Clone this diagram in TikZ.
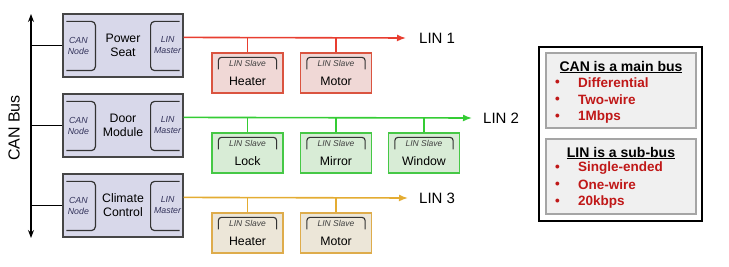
\documentclass[tikz,border=0pt]{standalone}
\usepackage{fontspec}
\setmainfont{Liberation Sans}
\usetikzlibrary{arrows.meta,calc,positioning}

\definecolor{ecufill}{RGB}{216,216,234}
\definecolor{ecuedge}{RGB}{70,70,70}
\definecolor{tagtext}{RGB}{50,50,90}
\definecolor{redline}{RGB}{232,62,48}
\definecolor{redfill}{RGB}{240,216,214}
\definecolor{rededge}{RGB}{218,84,64}
\definecolor{greenline}{RGB}{52,204,52}
\definecolor{greenfill}{RGB}{216,236,214}
\definecolor{greenedge}{RGB}{70,200,70}
\definecolor{orangeline}{RGB}{228,172,50}
\definecolor{orangefill}{RGB}{236,230,216}
\definecolor{orangeedge}{RGB}{222,172,76}
\definecolor{notered}{RGB}{192,24,24}
\definecolor{notefill}{RGB}{240,240,240}
\definecolor{noteedge}{RGB}{165,165,165}

\tikzset{
  ecu/.style={draw=ecuedge, fill=ecufill, line width=1.2pt,
    minimum width=120pt, minimum height=63pt, inner sep=0pt, align=center,
    font=\fontsize{12.3}{14}\selectfont},
  tag/.style={align=center, text=tagtext, inner sep=0pt,
    font=\fontsize{8.8}{11}\selectfont\itshape},
  bracket/.style={line width=1.2pt, draw=black!80, rounded corners=4pt},
  slave/.style={draw=#1edge, fill=#1fill, line width=1.2pt,
    minimum width=71pt, minimum height=40pt, inner sep=0pt},
  lin/.style={draw=#1line, line width=1.6pt},
  linlabel/.style={font=\fontsize{15}{18}\selectfont, inner sep=0pt},
  notebox/.style={draw=noteedge, fill=notefill, line width=1.5pt,
    minimum width=150pt, minimum height=75pt, inner sep=0pt},
  notetitle/.style={font=\fontsize{14}{16}\selectfont\bfseries, inner sep=0pt},
  noteitem/.style={font=\fontsize{13.5}{16}\selectfont\bfseries, text=notered,
    inner sep=0pt, anchor=west},
}

\begin{document}
\begin{tikzpicture}[x=1pt,y=-1pt]
    \useasboundingbox (0,0) rectangle (729,267);

    % The CAN bus
    \coordinate (bustop) at (31,14);
    \coordinate (busbot) at (31,238);
    \draw[line width=1.2pt, {Stealth[length=8pt,width=6pt]}-{Stealth[length=8pt,width=6pt]}] (busbot) -- (bustop);
    \node[rotate=90, font=\fontsize{16}{18}\selectfont, inner sep=0pt] (canbus) at (14,128) {CAN Bus};

    % The ECUs on the CAN bus
    \node[ecu] (seat) at (123,45.5) {Power\\Seat};
    \node[ecu] (door) at (123,125.5) {Door\\Module};
    \node[ecu] (climate) at (123,205.5) {Climate\\Control};

    \foreach \e in {seat,door,climate} {
        \draw[bracket] ($(\e.north west)+(4,8)$) -| ($(\e.south west)+(33,-7)$) -- ($(\e.south west)+(4,-7)$);
        \draw[bracket] ($(\e.north east)+(-4,8)$) -| ($(\e.south east)+(-33,-7)$) -- ($(\e.south east)+(-4,-7)$);
        \node[tag] (\e-can) at ($(\e.west)+(16,0)$) {CAN\\Node};
        \node[tag] (\e-lin) at ($(\e.east)+(-16,0)$) {LIN\\Master};
        \draw[line width=1.2pt] (\e.west) -- (\e.west -| bustop);
    }

    % The LIN sub-buses
    \coordinate (lin1) at ($(seat.north east)+(0,24)$);
    \coordinate (lin2) at ($(door.north east)+(0,24)$);
    \coordinate (lin3) at ($(climate.north east)+(0,24)$);
    \coordinate (lin1end) at (406,38);
    \coordinate (lin2end) at (472,118);
    \coordinate (lin3end) at (408,198);
    \draw[lin=red, -{Latex[length=9pt,width=7pt]}] (lin1) -- (lin1end);
    \draw[lin=green, -{Latex[length=9pt,width=7pt]}] (lin2) -- (lin2end);
    \draw[lin=orange, -{Latex[length=9pt,width=7pt]}] (lin3) -- (lin3end);
    \node[linlabel, right=13pt of lin1end] (lin1lab) {LIN 1};
    \node[linlabel, right=11pt of lin2end] (lin2lab) {LIN 2};
    \node[linlabel, right=11pt of lin3end] (lin3lab) {LIN 3};

    % The LIN slaves
    \foreach \n/\x/\y/\t/\c/\b in {h1/247.5/73/Heater/red/lin1, m1/336/73/Motor/red/lin1,
        lk/247.5/153/Lock/green/lin2, mr/336/153/Mirror/green/lin2, wn/424/153/Window/green/lin2,
        h3/247.5/233/Heater/orange/lin3, m3/336/233/Motor/orange/lin3} {
        \node[slave=\c] (\n) at (\x,\y) {};
        \draw[lin=\c, line width=1.2pt] (\n.north) -- (\n.north |- \b);
        \draw[line width=1.1pt, draw=black!80, rounded corners=3pt] ($(\n.north west)+(7,17)$) |- ($(\n.north east)+(-7,5)$) -- ($(\n.north east)+(-7,17)$);
        \node[tag, text=black!75, font=\fontsize{8.5}{10}\selectfont\itshape] (\n-tag) at ($(\n.north)+(0,11)$) {LIN Slave};
        \node[inner sep=0pt, font=\fontsize{12.3}{14}\selectfont] (\n-txt) at ($(\n.north)+(0,29)$) {\t};
    }

    % The notes on the two buses
    \node[draw=black, line width=1.5pt, minimum width=163pt, minimum height=174pt, inner sep=0pt] (notes) at (620.5,134) {};
    \node[notebox] (cannote) at (621,90.5) {};
    \node[notebox] (linnote) at (621,176.5) {};

    \node[notetitle] (cantitle) at (621,67) {\underline{CAN is a main bus}};
    \node[notetitle] (lintitle) at (621,153) {\underline{LIN is a sub-bus}};
    \foreach \t [count=\i] in {Differential,Two-wire,1Mbps} {
        \node[noteitem] (canbul\i) at (555,66+17*\i) {•};
        \node[noteitem] (canitem\i) at (578,66+17*\i) {\t};
    }
    \foreach \t [count=\i] in {Single-ended,One-wire,20kbps} {
        \node[noteitem] (linbul\i) at (555,151+17*\i) {•};
        \node[noteitem] (linitem\i) at (578,151+17*\i) {\t};
    }
\end{tikzpicture}
\end{document}
